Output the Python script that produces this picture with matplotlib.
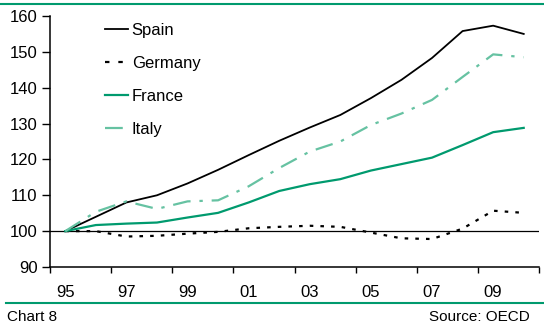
import matplotlib
matplotlib.use("Agg")
import matplotlib.pyplot as plt
from matplotlib.lines import Line2D

plt.rcParams["font.family"] = ["Liberation Sans", "DejaVu Sans"]
plt.rcParams["font.size"] = 11

years = list(range(1995, 2011))
spain = [100, 104, 108, 110, 113.3, 117.1, 121.2, 125.2, 128.9, 132.4, 137.1, 142.2, 148.3, 155.8, 157.3, 155.0]
germany = [100, 100, 98.5, 98.7, 99.3, 99.8, 100.8, 101.2, 101.5, 101.2, 99.6, 98.0, 97.8, 100.7, 105.7, 105.1]
france = [100, 101.7, 102.1, 102.4, 103.8, 105.1, 108.0, 111.2, 113.1, 114.5, 116.9, 118.7, 120.5, 124.0, 127.6, 128.8]
italy = [100, 105.4, 108.3, 106.2, 108.3, 108.6, 112.5, 117.6, 122.2, 125.0, 129.6, 132.8, 136.6, 143.0, 149.3, 148.5]
tick_years = list(range(1995, 2012, 2))
tick_labels = ["95", "97", "99", "01", "03", "05", "07", "09"]

dark_green = "#009a6e"
light_green = "#66c2a2"
dotted = (0, (1.6, 3.2))
dash_dot = (0, (8, 4, 1.5, 4))

W, H = 544, 326
fig = plt.figure(figsize=(W / 100, H / 100), dpi=100)
ax = fig.add_axes([50 / W, 1 - 267 / H, 489 / W, 251 / H])

# values sit in the middle of each year
x = [y + 0.5 for y in years]
ax.plot(x, spain, color="black", lw=1.3)
ax.plot(x, germany, color="black", lw=1.6, linestyle=dotted)
ax.plot(x, france, color=dark_green, lw=1.6)
ax.plot(x, italy, color=light_green, lw=1.6, linestyle=dash_dot)
ax.axhline(100, color="black", lw=0.9, zorder=1)

ax.set_xlim(1995, 2011)
ax.set_ylim(90, 160)
ax.set_yticks(range(90, 161, 10))
ax.set_xticks(tick_years)
ax.set_xticklabels([])
ax.set_xticks([y + 0.5 for y in tick_years[:-1]], minor=True)
ax.set_xticklabels(tick_labels, minor=True)
ax.tick_params(axis="x", which="major", direction="out", length=4, width=1)
ax.tick_params(axis="x", which="minor", length=0, pad=13, labelsize=12)
ax.tick_params(axis="y", direction="out", length=6, width=1, pad=3, labelsize=12)
for side in ("top", "right"):
    ax.spines[side].set_visible(False)
for side in ("left", "bottom"):
    ax.spines[side].set_linewidth(1.1)

handles = [
    Line2D([], [], color="black", lw=1.3),
    Line2D([], [], color="black", lw=1.6, linestyle=(0, (2, 4))),
    Line2D([], [], color=dark_green, lw=1.6),
    Line2D([], [], color=light_green, lw=1.6, linestyle=(0, (8, 10))),
]
fig.legend(handles, ["Spain", "Germany", "France", "Italy"], loc="upper left",
           bbox_to_anchor=(105 / W, 1 - 23 / H), frameon=False, borderpad=0,
           borderaxespad=0, handlelength=1.35, handletextpad=0.25,
           labelspacing=1.08, fontsize=12)

# rules and footer
fig.add_artist(Line2D([0, 1], [1 - 4 / H] * 2, color=dark_green, lw=1.5))
fig.add_artist(Line2D([6 / W, 1], [1 - 303 / H] * 2, color=dark_green, lw=1.5))
fig.text(7 / W, 1 - 317 / H, "Chart 8", ha="left", va="center", fontsize=11)
fig.text(530 / W, 1 - 317 / H, "Source: OECD", ha="right", va="center", fontsize=11)

fig.savefig("out.png", dpi=100)
